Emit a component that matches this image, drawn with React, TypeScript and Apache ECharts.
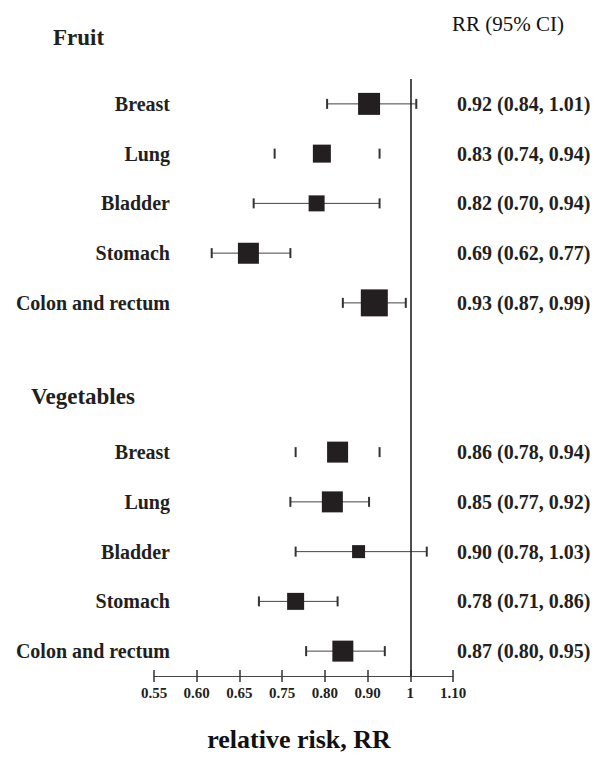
import React, { useEffect, useRef } from "react";
import * as echarts from "echarts";

// ---- data ----
const groups = ["Fruit", "Vegetables"];
const sites = ["Breast", "Lung", "Bladder", "Stomach", "Colon and rectum"];

const fruitRR = [0.92, 0.83, 0.82, 0.69, 0.93];
const fruitLo = [0.84, 0.74, 0.7, 0.62, 0.87];
const fruitHi = [1.01, 0.94, 0.94, 0.77, 0.99];
const fruitWeight = [22, 18, 16, 21, 27];
const fruitLineShown = [true, false, true, true, true];

const vegRR = [0.86, 0.85, 0.9, 0.78, 0.87];
const vegLo = [0.78, 0.77, 0.78, 0.71, 0.8];
const vegHi = [0.94, 0.92, 1.03, 0.86, 0.95];
const vegWeight = [21, 21, 13, 17, 21];
const vegLineShown = [false, true, true, true, true];

const tickLabels = ["0.55", "0.60", "0.65", "0.75", "0.80", "0.90", "1", "1.10"];
const ciHeader = "RR (95% CI)";
const xTitle = "relative risk, RR";

const SERIF = "'Liberation Serif', 'Times New Roman', serif";
const INK = "#231f20";

export default function App() {
  const ref = useRef<HTMLDivElement>(null);

  useEffect(() => {
    document.body.style.margin = "0";
    if (!ref.current) return;
    const chart = echarts.init(ref.current, null, { renderer: "svg" });

    // rows: 5 fruit, blank, vegetables header row, 5 vegetables
    const leftLabels: string[] = [...sites, "", "", ...sites];
    const fmt = (rr: number, lo: number, hi: number) =>
      `${rr.toFixed(2)} (${lo.toFixed(2)}, ${hi.toFixed(2)})`;
    const rightLabels: string[] = [
      ...fruitRR.map((v, i) => fmt(v, fruitLo[i], fruitHi[i])),
      "",
      "",
      ...vegRR.map((v, i) => fmt(v, vegLo[i], vegHi[i])),
    ];
    const data: number[][] = [];
    fruitRR.forEach((v, i) =>
      data.push([i, v, fruitLo[i], fruitHi[i], fruitWeight[i], fruitLineShown[i] ? 1 : 0])
    );
    vegRR.forEach((v, i) =>
      data.push([i + 7, v, vegLo[i], vegHi[i], vegWeight[i], vegLineShown[i] ? 1 : 0])
    );

    const gridTop = 79;
    const gridBottom = 676;

    chart.setOption({
      animation: false,
      grid: { left: 154, right: 145, top: gridTop, height: gridBottom - gridTop },
      xAxis: [
        { type: "value", min: 0.51, max: 1.08, show: false, position: "bottom" },
        {
          type: "category",
          data: tickLabels,
          boundaryGap: false,
          position: "bottom",
          axisLine: { show: true, onZero: false, lineStyle: { color: "#444", width: 1 } },
          axisTick: { show: true, length: 6, inside: false, lineStyle: { color: "#333", width: 1.5 } },
          axisLabel: {
            margin: 9,
            fontFamily: SERIF,
            fontWeight: "bold",
            fontSize: 15,
            color: INK,
            interval: 0,
          },
          splitLine: { show: false },
        },
        {
          type: "category",
          data: tickLabels,
          boundaryGap: false,
          position: "bottom",
          axisLine: { show: false, onZero: false },
          axisTick: { show: true, length: 6, inside: true, interval: 0, lineStyle: { color: "#333", width: 1.5 } },
          axisLabel: { show: false },
          splitLine: { show: false },
        },
      ],
      yAxis: [
        {
          type: "category",
          data: leftLabels,
          inverse: true,
          position: "left",
          axisLine: { show: false },
          axisTick: { show: false },
          axisLabel: {
            margin: -16,
            interval: 0,
            fontFamily: SERIF,
            fontWeight: "bold",
            fontSize: 20,
            color: INK,
            padding: [0, 0, 10, 0],
          },
        },
        {
          type: "category",
          data: rightLabels,
          inverse: true,
          position: "right",
          axisLine: { show: false },
          axisTick: { show: false },
          axisLabel: {
            margin: 4,
            interval: 0,
            fontFamily: SERIF,
            fontWeight: "bold",
            fontSize: 20,
            color: INK,
            align: "left",
          },
        },
      ],
      series: [
        {
          type: "line",
          xAxisIndex: 0,
          yAxisIndex: 0,
          data: [],
          markLine: {
            silent: true,
            symbol: "none",
            label: { show: false },
            lineStyle: { color: "#222", width: 1.6, type: "solid" },
            data: [{ xAxis: 1 }],
          },
        },
        {
          type: "custom",
          xAxisIndex: 0,
          yAxisIndex: 0,
          data,
          encode: { x: [1, 2, 3], y: 0 },
          renderItem: (params: any, api: any) => {
            const row = api.value(0);
            const rr = api.value(1);
            const lo = api.value(2);
            const hi = api.value(3);
            const w = api.value(4);
            const showLine = api.value(5);
            const c = api.coord([rr, row]);
            const l = api.coord([lo, row]);
            const h = api.coord([hi, row]);
            const capH = 5;
            const children: any[] = [];
            if (showLine) {
              children.push({
                type: "line",
                shape: { x1: l[0], y1: l[1], x2: h[0], y2: h[1] },
                style: { stroke: "#444", lineWidth: 1 },
              });
            }
            children.push({
              type: "line",
              shape: { x1: l[0], y1: l[1] - capH, x2: l[0], y2: l[1] + capH },
              style: { stroke: "#333", lineWidth: 2 },
            });
            children.push({
              type: "line",
              shape: { x1: h[0], y1: h[1] - capH, x2: h[0], y2: h[1] + capH },
              style: { stroke: "#333", lineWidth: 2 },
            });
            children.push({
              type: "rect",
              shape: { x: c[0] - w / 2, y: c[1] - w / 2, width: w, height: w },
              style: { fill: INK },
            });
            return { type: "group", children };
          },
        },
      ],
      graphic: [
        {
          type: "text",
          left: 53,
          top: 26,
          style: { text: groups[0], font: `bold 23px ${SERIF}`, fill: INK },
        },
        {
          type: "text",
          left: 31,
          top: 385,
          style: { text: groups[1], font: `bold 23px ${SERIF}`, fill: INK },
        },
        {
          type: "text",
          left: 452,
          top: 13,
          style: { text: ciHeader, font: `21px ${SERIF}`, fill: "#111" },
        },
        {
          type: "text",
          left: "center",
          top: 726,
          style: { text: xTitle, font: `bold 26px ${SERIF}`, fill: "#111" },
        },
      ],
    });

    return () => chart.dispose();
  }, []);

  return <div ref={ref} style={{ width: 598, height: 758 }} />;
}
